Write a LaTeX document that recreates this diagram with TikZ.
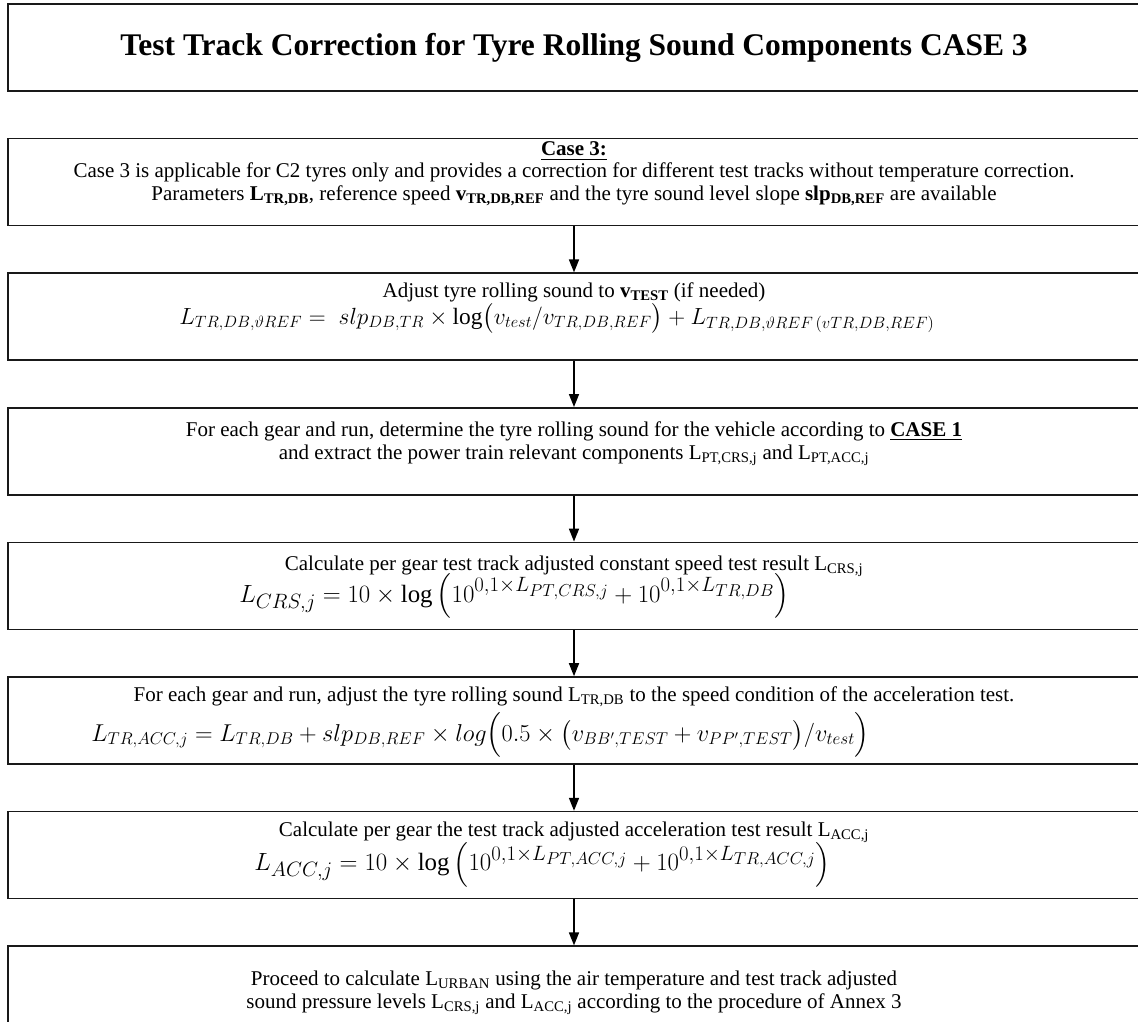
\RequirePackage{fix-cm}
\documentclass[tikz,border=0pt]{standalone}
\usepackage{amsmath}
\usepackage{fontspec}
\setmainfont{Liberation Serif}
\usetikzlibrary{arrows.meta,positioning,calc}

\newcommand{\sbs}[1]{\textsubscript{#1}}

\begin{document}
\begin{tikzpicture}[
    x=1pt, y=1pt,
    >={Triangle[width=10pt,length=13pt]},
    box/.style={draw=black!90, line width=1.6pt, minimum width=1132pt,
                minimum height=87pt, inner sep=0pt},
    txt/.style={font=\fontsize{21}{23}\selectfont, inner sep=0pt, anchor=base},
    eq/.style={font=\fontsize{24.88}{30}\selectfont, inner sep=0pt, anchor=base west},
    arr/.style={->, line width=1.6pt},
  ]
  \useasboundingbox (0,0) rectangle (1138,-1021);
  \clip (0,0) rectangle (1138,-1021);

  % heading
  \node[box] (title) at (574,-47.5) {};
  \node[font=\fontsize{31.5}{36}\selectfont\bfseries] (ttl) at (title)
    {Test Track Correction for Tyre Rolling Sound Components CASE 3};

  % the steps, top to bottom
  \node[box, below=46pt of title] (b2) {};
  \node[box, below=46pt of b2] (b3) {};
  \node[box, below=46pt of b3] (b4) {};
  \node[box, below=46pt of b4] (b5) {};
  \node[box, below=46pt of b5] (b6) {};
  \node[box, below=46pt of b6] (b7) {};
  \node[box, below=46pt of b7] (b8) {};

  % case 3 description
  \node[txt] (c2a) at ($(b2.north)+(0,-18)$) {\underline{\textbf{Case 3:}}};
  \node[txt] (c2b) at ($(b2.north)+(0,-40)$)
    {Case 3 is applicable for C2 tyres only and provides a correction for different test tracks without temperature correction.};
  \node[txt] (c2c) at ($(b2.north)+(0,-63)$)
    {Parameters \textbf{L\sbs{TR,DB}}, reference speed \textbf{v\sbs{TR,DB,REF}} and the tyre sound level slope \textbf{slp\sbs{DB,REF}} are available};

  % speed adjustment
  \node[txt] (c3a) at ($(b3.north)+(0,-25)$)
    {Adjust tyre rolling sound to \textbf{v\sbs{TEST}} (if needed)};
  \node[eq, font=\fontsize{23.4}{28}\selectfont] (f3) at ($(b3.north west)+(172,-52)$)
    {$L_{TR,DB,\vartheta REF} =\; slp_{DB,TR}\times\log\bigl(v_{test}/v_{TR,DB,REF}\bigr)+L_{TR,DB,\vartheta REF\,(vTR,DB,REF)}$};

  % case 1 split
  \node[txt] (c4a) at ($(b4.north)+(0,-29)$)
    {For each gear and run, determine the tyre rolling sound for the vehicle according to \underline{\textbf{CASE 1}}};
  \node[txt] (c4b) at ($(b4.north)+(0,-52)$)
    {and extract the power train relevant components L\sbs{PT,CRS,j} and L\sbs{PT,ACC,j}};

  % constant speed result
  \node[txt] (c5a) at ($(b5.north)+(0,-29)$)
    {Calculate per gear test track adjusted constant speed test result L\sbs{CRS,j}};
  \node[eq] (f5) at ($(b5.north west)+(232,-61)$)
    {$L_{CRS,j} = 10\times\log\left(10^{0{,}1\times L_{PT,CRS,j}}+10^{0{,}1\times L_{TR,DB}}\right)$};

  % acceleration tyre sound
  \node[txt] (c6a) at ($(b6.north)+(0,-25)$)
    {For each gear and run, adjust the tyre rolling sound L\sbs{TR,DB} to the speed condition of the acceleration test.};
  \node[eq, font=\fontsize{24.4}{30}\selectfont] (f6) at ($(b6.north west)+(84,-65)$)
    {$L_{TR,ACC,j} = L_{TR,DB}+slp_{DB,REF}\times log\Bigl(0.5\times\bigl(v_{BB',TEST}+v_{PP',TEST}\bigr)/v_{test}\Bigr)$};

  % acceleration result
  \node[txt] (c7a) at ($(b7.north)+(0,-26)$)
    {Calculate per gear the test track adjusted acceleration test result L\sbs{ACC,j}};
  \node[eq] (f7) at ($(b7.north west)+(247,-60)$)
    {$L_{ACC,j} = 10\times\log\left(10^{0{,}1\times L_{PT,ACC,j}}+10^{0{,}1\times L_{TR,ACC,j}}\right)$};

  % final step
  \node[txt] (c8a) at ($(b8.north)+(0,-40)$)
    {Proceed to calculate L\sbs{URBAN} using the air temperature and test track adjusted};
  \node[txt] (c8b) at ($(b8.north)+(0,-63)$)
    {sound pressure levels L\sbs{CRS,j} and L\sbs{ACC,j} according to the procedure of Annex 3};

  \draw[arr] (b2.south) -- (b3.north);
  \draw[arr] (b3.south) -- (b4.north);
  \draw[arr] (b4.south) -- (b5.north);
  \draw[arr] (b5.south) -- (b6.north);
  \draw[arr] (b6.south) -- (b7.north);
  \draw[arr] (b7.south) -- (b8.north);
\end{tikzpicture}
\end{document}
